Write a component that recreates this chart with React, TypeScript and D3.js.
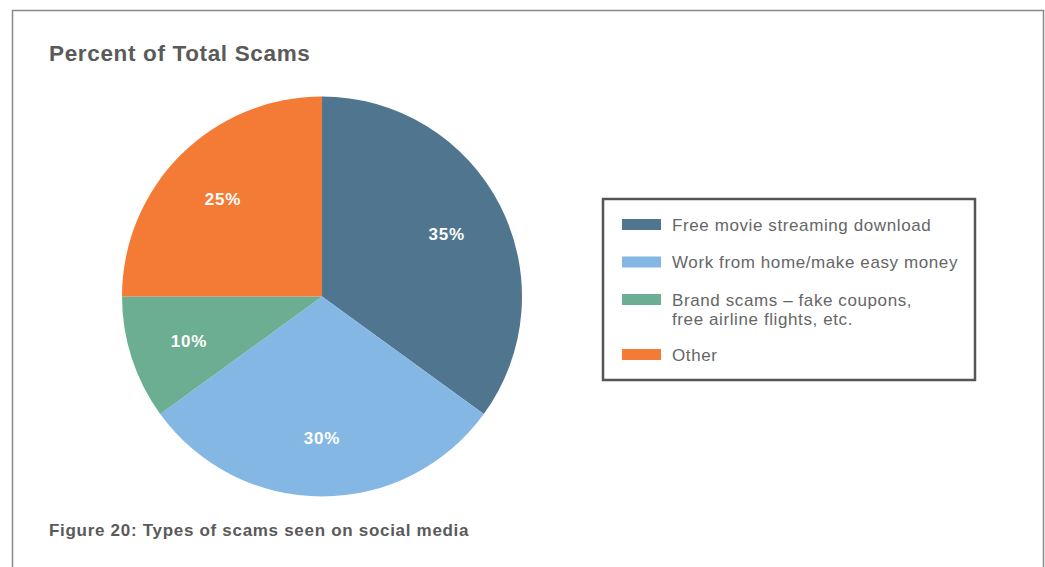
import React from "react";
import * as d3 from "d3";

const categories = [
  "Free movie streaming download",
  "Work from home/make easy money",
  "Brand scams – fake coupons,\nfree airline flights, etc.",
  "Other",
];
const values = [35, 30, 10, 25];
const labels = ["35%", "30%", "10%", "25%"];
const colors = ["#50768F", "#85B7E5", "#6BAE91", "#F47B36"];

const W = 1045;
const H = 567;
const FONT = "'Liberation Sans', Arial, Helvetica, sans-serif";

export default function App() {
  const cx = 322;
  const cy = 296.5;
  const r = 200;
  const pie = d3.pie<number>().sort(null).value((d) => d)(values);
  const arc = d3.arc<d3.PieArcDatum<number>>().innerRadius(0).outerRadius(r);
  const labelArc = d3
    .arc<d3.PieArcDatum<number>>()
    .innerRadius(140)
    .outerRadius(140);

  const legendX = 602;
  const legendY = 198;
  const rowY = [224.5, 262, 299.5, 354.5];

  return (
    <svg
      width={W}
      height={H}
      style={{ position: "absolute", left: 0, top: 0, background: "#fff" }}
    >
      <path
        d={`M12.5,${H} L12.5,10.5 L1043.5,10.5 L1043.5,${H}`}
        fill="none"
        stroke="#888"
        strokeWidth={1.5}
      />
      <text
        x={49}
        y={61}
        fontFamily={FONT}
        fontWeight="bold"
        fontSize={22.5}
        letterSpacing={0.65}
        fill="#5a5a5a"
      >
        Percent of Total Scams
      </text>
      <g transform={`translate(${cx},${cy})`}>
        {pie.map((p, i) => (
          <path key={i} d={arc(p) || ""} fill={colors[i]} />
        ))}
        {pie.map((p, i) => {
          const [lx, ly] = labelArc.centroid(p);
          return (
            <text
              key={"l" + i}
              x={lx}
              y={ly + 2}
              textAnchor="middle"
              dominantBaseline="central"
              fontFamily={FONT}
              fontWeight="bold"
              fontSize={17}
              letterSpacing={0.8}
              fill="#fff"
            >
              {labels[i]}
            </text>
          );
        })}
      </g>
      <rect
        x={legendX + 1}
        y={legendY + 1}
        width={372}
        height={181}
        fill="#fff"
        stroke="#555"
        strokeWidth={2.5}
      />
      {categories.map((c, i) => {
        const lines = c.split("\n");
        return (
          <g key={"g" + i}>
            <rect
              x={622}
              y={rowY[i] - 5.5}
              width={39}
              height={11}
              fill={colors[i]}
            />
            {lines.map((ln, j) => (
              <text
                key={j}
                x={672}
                y={rowY[i] + 6 + j * 19}
                fontFamily={FONT}
                fontSize={17}
                letterSpacing={0.6}
                fill="#666"
              >
                {ln}
              </text>
            ))}
          </g>
        );
      })}
      <text
        x={49}
        y={536}
        fontFamily={FONT}
        fontWeight="bold"
        fontSize={17}
        letterSpacing={0.7}
        fill="#5a5a5a"
      >
        Figure 20: Types of scams seen on social media
      </text>
    </svg>
  );
}
